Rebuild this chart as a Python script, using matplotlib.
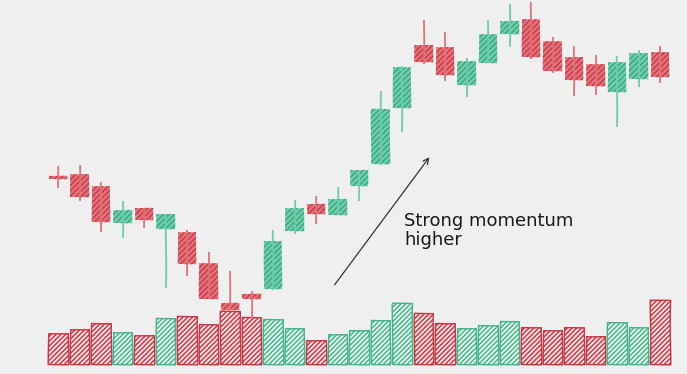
import matplotlib
matplotlib.use("Agg")
import matplotlib.pyplot as plt
import numpy as np

# ---- data ----
opens  = [106.1, 106.4, 103.5, 94.3, 98.0, 92.8, 91.9, 84.2, 74.2, 76.4,
          77.75, 92.3, 99.0, 96.2, 103.5, 108.9, 123.1, 138.75, 138.2, 128.8,
          134.25, 141.4, 145.2, 139.75, 135.8, 134.1, 126.9, 130.3, 137.0]
highs  = [108.6, 108.75, 104.4, 99.8, 98.0, 96.5, 92.5, 86.9, 82.3, 77.25,
          92.5, 100.0, 101.0, 103.3, 107.5, 127.25, 133.5, 145.0, 141.9, 135.4,
          145.0, 149.0, 149.6, 140.8, 138.5, 136.25, 136.0, 137.5, 138.5]
lows   = [102.9, 99.8, 91.9, 90.4, 93.1, 77.9, 80.9, 75.2, 72.5, 70.5,
          77.5, 91.4, 93.9, 96.2, 99.75, 108.75, 117.1, 133.9, 129.8, 125.7,
          134.2, 138.3, 135.2, 131.7, 126.1, 126.25, 118.3, 128.2, 129.2]
closes = [105.3, 100.8, 94.6, 97.4, 94.9, 96.5, 84.1, 75.2, 72.5, 75.2,
          89.8, 98.0, 96.4, 100.3, 107.5, 122.75, 133.2, 134.6, 131.3, 134.75,
          141.4, 144.75, 135.7, 132.3, 129.9, 128.5, 134.4, 136.8, 130.8]
volumes = [307, 347, 413, 323, 290, 463, 477, 400, 527, 470,
           447, 357, 237, 300, 337, 440, 607, 507, 407, 363,
           390, 430, 373, 340, 373, 280, 417, 373, 640]
annotation_text = "Strong momentum\nhigher"

# ---- style ----
BG = "#efefef"
UP_FACE, UP_EDGE = "#6ccda8", "#2f9e79"
DN_FACE, DN_EDGE = "#e27079", "#c4303c"
UP_VFACE, UP_VEDGE = "#e4f1eb", "#3fb48c"
DN_VFACE, DN_VEDGE = "#f3dfe0", "#c93440"

fig = plt.figure(figsize=(6.87, 3.74), dpi=100, facecolor=BG)
ax = fig.add_axes([0, 0, 1, 1])
ax.set_facecolor(BG)
axv = ax.twinx()
ax.set_zorder(2)
ax.patch.set_visible(False)
axv.set_zorder(1)

n = len(opens)
x = np.arange(n)
o = np.array(opens); c = np.array(closes)
h = np.array(highs); l = np.array(lows)
up = c >= o

# volume bars
plt.rcParams["hatch.linewidth"] = 1.0
for i in range(n):
    fc, ec = (UP_VFACE, UP_VEDGE) if up[i] else (DN_VFACE, DN_VEDGE)
    b = axv.bar(x[i], volumes[i], width=0.92, bottom=0, facecolor=fc,
                edgecolor=ec, linewidth=1.0, hatch="///////")
    for p in b:
        p.set_sketch_params(0.3, 80, 1)

# wicks
for i in range(n):
    col = UP_FACE if up[i] else DN_FACE
    ln = ax.vlines(x[i], l[i], h[i], color=col, linewidth=1.3)
    ln.set_sketch_params(0.25, 80, 1)

# bodies
plt.rcParams["hatch.linewidth"] = 0.8
for i in range(n):
    fc, ec = (UP_FACE, UP_EDGE) if up[i] else (DN_FACE, DN_EDGE)
    bottom = min(o[i], c[i])
    height = max(abs(c[i] - o[i]), 0.6)
    b = ax.bar(x[i], height, width=0.86, bottom=bottom, facecolor=fc,
               edgecolor=ec, linewidth=0.0, hatch="//////")
    for p in b:
        p.set_sketch_params(0.25, 80, 1)

# axis scales
x0 = -58 / 21.5
ax.set_xlim(x0, x0 + 687 / 21.5)
ax.set_ylim(56.5, 150)
axv.set_ylim(-100, 3640)

# annotation
ax.annotate("", xy=(17.35, 111.25), xytext=(12.79, 78.25),
            arrowprops=dict(arrowstyle="->", color="#333333", lw=0.9,
                            mutation_scale=10))
ax.text(16.1, 97.0, annotation_text, fontsize=13, color="#1a1a1a",
        va="top", ha="left", linespacing=1.05, family="DejaVu Sans")

for a in (ax, axv):
    a.set_axis_off()

fig.savefig("out.png", dpi=100, facecolor=BG)
